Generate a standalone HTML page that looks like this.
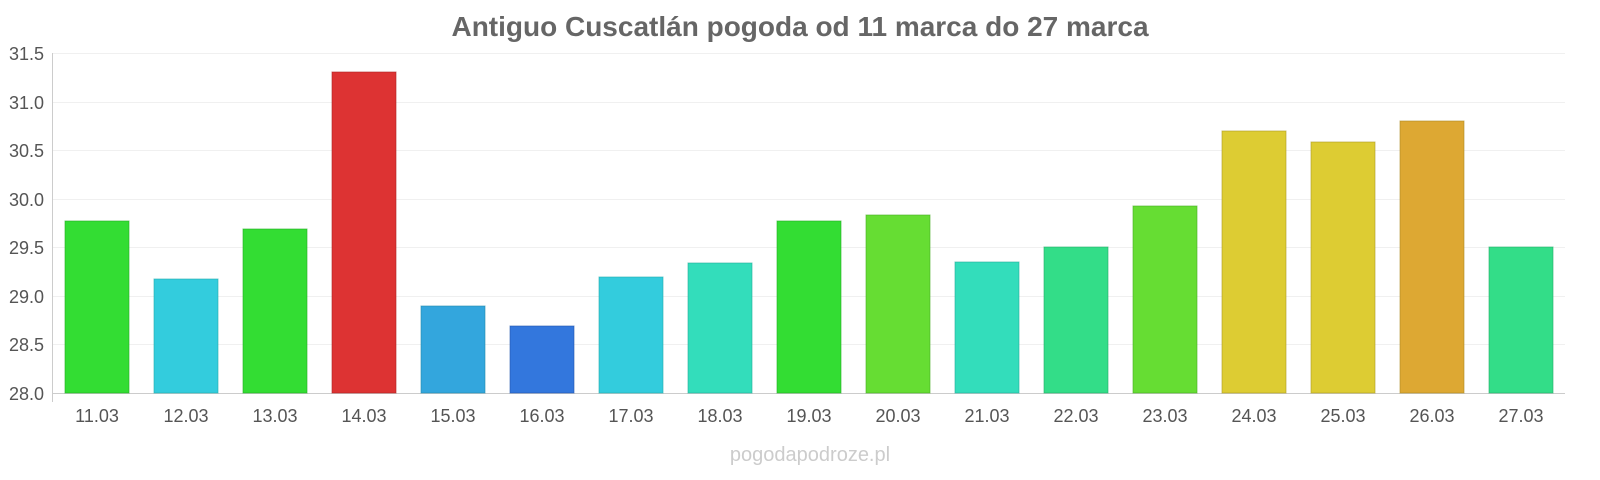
<!DOCTYPE html>
<html><head><meta charset="utf-8"><style>
body{margin:0;background:#fff;}
svg{display:block;font-family:"Liberation Sans",sans-serif;}
</style></head><body>
<svg width="1600" height="480" viewBox="0 0 1600 480">
<text x="800" y="36" text-anchor="middle" font-size="28" font-weight="bold" fill="#666">Antiguo Cuscatlán pogoda od 11 marca do 27 marca</text>
<g stroke="#f0f0f0" stroke-width="1">
<line x1="52" x2="1565" y1="53.5" y2="53.5"/><line x1="52" x2="1565" y1="102.5" y2="102.5"/>
<line x1="52" x2="1565" y1="150.5" y2="150.5"/><line x1="52" x2="1565" y1="199.5" y2="199.5"/>
<line x1="52" x2="1565" y1="247.5" y2="247.5"/><line x1="52" x2="1565" y1="296.5" y2="296.5"/>
<line x1="52" x2="1565" y1="344.5" y2="344.5"/>
</g>
<line x1="52.5" x2="52.5" y1="53" y2="402" stroke="#ccc"/>
<line x1="52" x2="1565" y1="393.5" y2="393.5" stroke="#ccc"/>
<g font-size="18" fill="#555" text-anchor="end">
<text x="44" y="60">31.5</text><text x="44" y="109">31.0</text><text x="44" y="157">30.5</text>
<text x="44" y="206">30.0</text><text x="44" y="254">29.5</text><text x="44" y="303">29.0</text>
<text x="44" y="351">28.5</text><text x="44" y="400">28.0</text>
</g>
<g stroke-width="1" stroke-opacity="0.6">
<rect x="65" y="221" width="64" height="172" fill="#33dd33" stroke="#22aa22"/>
<rect x="154" y="279" width="64" height="114" fill="#33ccdd" stroke="#22aaaa"/>
<rect x="243" y="229" width="64" height="164" fill="#33dd33" stroke="#22aa22"/>
<rect x="332" y="72" width="64" height="321" fill="#dd3333" stroke="#aa2222"/>
<rect x="421" y="306" width="64" height="87" fill="#33a6dd" stroke="#2288aa"/>
<rect x="510" y="326" width="64" height="67" fill="#3377dd" stroke="#2255aa"/>
<rect x="599" y="277" width="64" height="116" fill="#33ccdd" stroke="#22aaaa"/>
<rect x="688" y="263" width="64" height="130" fill="#33ddbb" stroke="#22aa99"/>
<rect x="777" y="221" width="64" height="172" fill="#33dd33" stroke="#22aa22"/>
<rect x="866" y="215" width="64" height="178" fill="#66dd33" stroke="#44aa22"/>
<rect x="955" y="262" width="64" height="131" fill="#33ddbb" stroke="#22aa99"/>
<rect x="1044" y="247" width="64" height="146" fill="#33dd88" stroke="#22aa66"/>
<rect x="1133" y="206" width="64" height="187" fill="#66dd33" stroke="#44aa22"/>
<rect x="1222" y="131" width="64" height="262" fill="#ddcc33" stroke="#aa9922"/>
<rect x="1311" y="142" width="64" height="251" fill="#ddcc33" stroke="#aa9922"/>
<rect x="1400" y="121" width="64" height="272" fill="#dda833" stroke="#aa8822"/>
<rect x="1489" y="247" width="64" height="146" fill="#33dd88" stroke="#22aa66"/>
</g>
<g font-size="18" fill="#555" text-anchor="middle">
<text x="97" y="422">11.03</text><text x="186" y="422">12.03</text><text x="275" y="422">13.03</text>
<text x="364" y="422">14.03</text><text x="453" y="422">15.03</text><text x="542" y="422">16.03</text>
<text x="631" y="422">17.03</text><text x="720" y="422">18.03</text><text x="809" y="422">19.03</text>
<text x="898" y="422">20.03</text><text x="987" y="422">21.03</text><text x="1076" y="422">22.03</text>
<text x="1165" y="422">23.03</text><text x="1254" y="422">24.03</text><text x="1343" y="422">25.03</text>
<text x="1432" y="422">26.03</text><text x="1521" y="422">27.03</text>
</g>
<text x="810" y="461" text-anchor="middle" font-size="20" fill="#ccc">pogodapodroze.pl</text>
</svg>
</body></html>
